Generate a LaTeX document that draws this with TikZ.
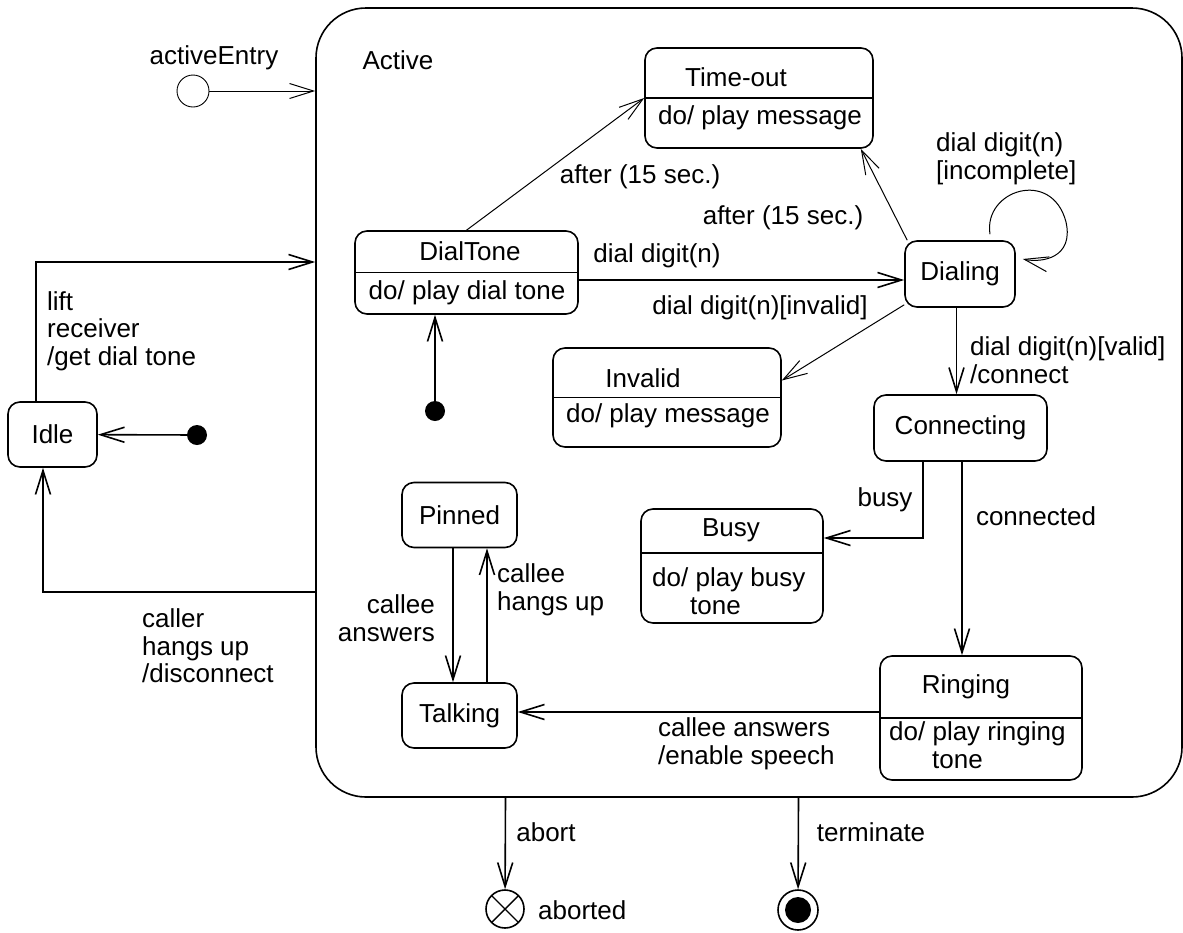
\documentclass[tikz,border=0pt]{standalone}
\usepackage{fontspec}
\setmainfont{Liberation Sans}
\usepackage{tikz}
\usetikzlibrary{positioning, arrows.meta}

\begin{document}
\begin{tikzpicture}[
  x=1pt, y=-1pt,
  lbl/.style={inner sep=0pt, font={\fontsize{26}{27.5}\selectfont}},
  state/.style={rectangle, draw, rounded corners=12pt, line width=1.6pt, inner sep=0pt, font={\fontsize{26}{27.5}\selectfont}},
  superstate/.style={rectangle, draw, rounded corners=50pt, line width=1.6pt, inner sep=0pt},
  divider/.style={line width=1.6pt},
  init/.style={circle, fill, inner sep=0pt, minimum size=20pt},
  entrypt/.style={circle, draw, line width=0.9pt, inner sep=0pt, minimum size=32pt},
  abortpt/.style={circle, draw, line width=1.6pt, inner sep=0pt, minimum size=38pt,
    path picture={\draw[line width=1.4pt] (path picture bounding box.north west) -- (path picture bounding box.south east)
      (path picture bounding box.north east) -- (path picture bounding box.south west);}},
  finalpt/.style={circle, draw, line width=1.6pt, inner sep=0pt, minimum size=40pt,
    path picture={\fill (path picture bounding box.center) circle (13pt);}},
  arr/.style={-{Straight Barb[length=24pt, width=15pt]}, line width=1.6pt},
  tarr/.style={arr, line width=1pt}
]
\useasboundingbox (0,0) rectangle (1183,932);

\node[superstate, minimum width=866pt, minimum height=789pt] (active) at (749,402.5) {};
\node[lbl] (activelbl) at (398,60) {Active};

\node[entrypt] (entry) at (193,91) {};
\node[lbl] (entrylbl) at (214,58) {activeEntry};

\node[state, minimum width=228pt, minimum height=100pt] (timeout) at (759,98) {};
\node[lbl] (timeoutname) at (736,77) {Time-out};
\node[lbl] (timeoutdo) at (760,118) {do/ play message};
\draw[divider] (timeout.west) -- (timeout.east);

\node[state, minimum width=223pt, minimum height=83pt] (dialtone) at (466.5,272.5) {};
\node[lbl] (dialtonename) at (470,251) {DialTone};
\node[lbl] (dialtonedo) at (467,293) {do/ play dial tone};
\draw[divider] (dialtone.west) -- (dialtone.east);

\node[state, minimum width=110pt, minimum height=66pt] (dialing) at (960,274) {Dialing};

\node[state, minimum width=228pt, minimum height=99pt] (invalid) at (667,397.5) {};
\node[lbl] (invalidname) at (643,378) {Invalid};
\node[lbl] (invaliddo) at (668,416) {do/ play message};
\draw[divider] (invalid.west) -- (invalid.east);

\node[state, minimum width=173pt, minimum height=66pt] (connecting) at (960.5,428) {Connecting};

\node[state, minimum width=182pt, minimum height=114pt] (busy) at (732,566) {};
\node[lbl] (busyname) at (731,530) {Busy};
\node[lbl, align=left, anchor=west] (busydo) at (652,591) {do/ play busy\\\hspace*{38pt}tone};
\draw[divider] ([yshift=13pt]busy.west) -- ([yshift=13pt]busy.east);

\node[state, minimum width=202pt, minimum height=124pt] (ringing) at (981,718) {};
\node[lbl] (ringingname) at (966,687) {Ringing};
\node[lbl, align=left, anchor=west] (ringingdo) at (889,745) {do/ play ringing\\\hspace*{43pt}tone};
\draw[divider] (ringing.west) -- (ringing.east);

\node[state, minimum width=115pt, minimum height=65pt] (pinned) at (459.5,515) {Pinned};
\node[state, minimum width=115pt, minimum height=65pt] (talking) at (459.5,715.5) {Talking};
\node[state, minimum width=89pt, minimum height=65pt] (idle) at (52.5,434.5) {Idle};

\node[init] (idleinit) at (197,435) {};
\node[init] (dialinit) at (435,411) {};
\node[abortpt] (aborted) at (505,909) {};
\node[lbl, anchor=west] (abortedlbl) at (538,910) {aborted};
\node[finalpt] (final) at (798,910) {};

\draw[tarr] (entry) -- (entry -| active.west);
\draw[arr] ([xshift=-16.5pt]idle.north) |- ([yshift=140.5pt]active.west);
\node[lbl, align=left, anchor=west] (liftlbl) at (47,331) {lift\\receiver\\/get dial tone};
\draw[arr] ([yshift=-189.5pt]active.west) -| ([xshift=-9.5pt]idle.south);
\node[lbl, align=left, anchor=west] (callerlbl) at (142,646) {caller\\hangs up\\/disconnect};
\draw[arr] (idleinit) -- (idle);
\draw[arr] (dialinit) -- (dialinit |- dialtone.south);

\draw[tarr] (dialtone.north) -- (timeout.west);
\node[lbl] (t1lbl) at (640,177) {after (15 sec.)};
\draw[tarr] ([xshift=3pt]dialing.north west) -- ([xshift=-13pt]timeout.south east);
\node[lbl] (t2lbl) at (783,218) {after (15 sec.)};
\draw[arr] ([yshift=-7.5pt]dialtone.east) -- ([yshift=-7.5pt]dialtone.east -| dialing.west);
\node[lbl] (ddlbl) at (657,256) {dial digit(n)};
\draw[tarr] ([yshift=3pt]dialing.south west) -- ([yshift=17pt]invalid.east);
\node[lbl] (invlbl) at (760,308) {dial digit(n)[invalid]};
\draw[tarr] ([xshift=30pt,yshift=6pt]dialing.north) .. controls (983,190) and (1052,168) .. (1066,222)
  .. controls (1074,258) and (1042,263) .. ([xshift=7pt,yshift=15pt]dialing.east);
\node[lbl, align=left, anchor=west] (inclbl) at (936,159) {dial digit(n)\\{}[incomplete]};

\draw[arr] ([xshift=-3.5pt]dialing.south) -- ([xshift=-3.5pt]dialing.south |- connecting.north);
\node[lbl, align=left, anchor=west] (validlbl) at (970,360) {dial digit(n)[valid]\\/connect};
\draw[arr] ([xshift=-37.5pt]connecting.south) |- ([yshift=28pt]busy.east);
\node[lbl] (busylbl) at (885,500) {busy};
\draw[arr] ([xshift=1.5pt]connecting.south) -- ([xshift=1.5pt]connecting.south |- ringing.north);
\node[lbl] (connlbl) at (1036,516) {connected};
\draw[arr] ([yshift=6pt]ringing.west) -- ([yshift=6pt]ringing.west -| talking.east);
\node[lbl, align=left, anchor=west] (answlbl) at (658,744) {callee answers\\/enable speech};

\draw[arr] ([xshift=-6.5pt]pinned.south) -- ([xshift=-6.5pt]pinned.south |- talking.north);
\node[lbl, align=right, anchor=east] (pinlbl) at (435,618) {callee\\answers};
\draw[arr] ([xshift=27.5pt]talking.north) -- ([xshift=27.5pt]talking.north |- pinned.south);
\node[lbl, align=left, anchor=west] (hanglbl) at (497,590) {callee\\hangs up};

\draw[arr] ([xshift=-243.5pt]active.south) -- (aborted);
\node[lbl] (abortlbl) at (546,832) {abort};
\draw[arr] ([xshift=49.5pt]active.south) -- (final);
\node[lbl] (termlbl) at (871,832) {terminate};
\end{tikzpicture}
\end{document}
